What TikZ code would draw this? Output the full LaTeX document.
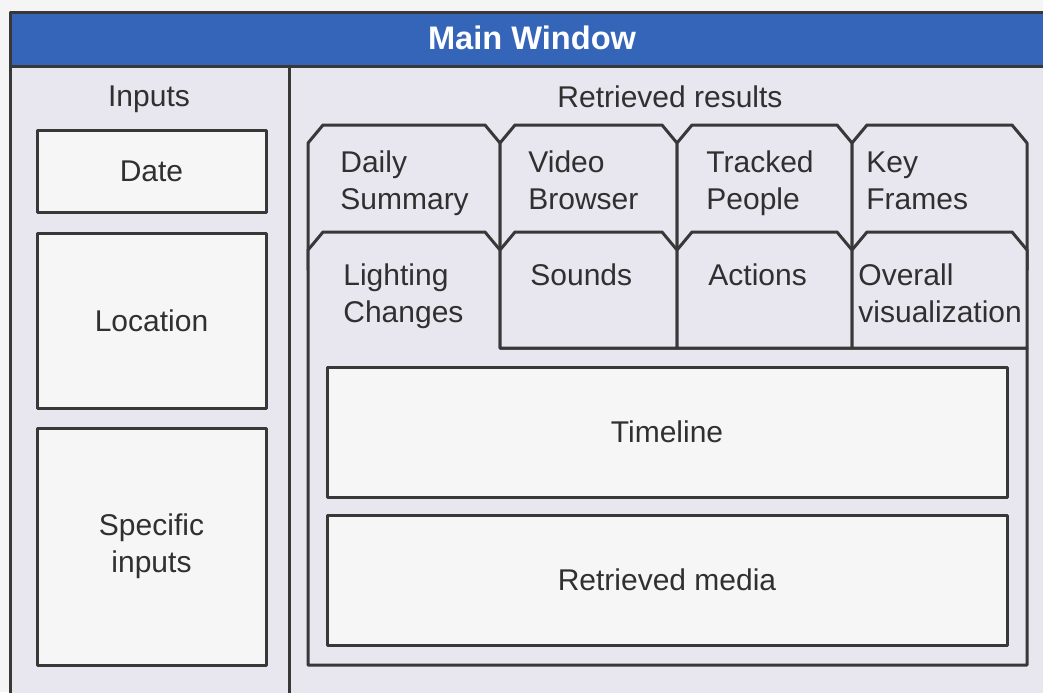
\documentclass[tikz,border=0pt]{standalone}
\usepackage{fontspec}
\setmainfont{Liberation Sans}
\usepackage{tikz}
\definecolor{titleblue}{HTML}{3465B8}
\definecolor{panelbg}{HTML}{E8E6EE}
\definecolor{boxbg}{HTML}{F6F6F7}
\definecolor{linegray}{HTML}{383838}
\definecolor{textgray}{HTML}{303030}
\tikzset{
  every picture/.style={line join=round, line cap=round},
  frameline/.style={draw=linegray, line width=1.5pt},
  inbox/.style={frameline, fill=boxbg, rectangle, inner sep=2pt, align=center,
    font=\fontsize{15}{18.5}\selectfont, text=textgray},
  tabbox/.style={frameline, fill=panelbg},
  tablabel/.style={anchor=north west, inner sep=0pt, align=left,
    font=\fontsize{15}{18.5}\selectfont, text=textgray},
  headlabel/.style={inner sep=0pt, font=\fontsize{15}{18.5}\selectfont, text=textgray},
}
% chamfered tab outline: left x, right x, top y, bottom y
\newcommand{\tabpath}[4]{(#1,#4) -- (#1,#3+18) -- (#1+15,#3) -- (#2-15,#3) -- (#2,#3+18) -- (#2,#4)}

\begin{document}
\begin{tikzpicture}[x=0.5pt,y=-0.5pt]
\useasboundingbox (0,0) rectangle (1043,692);
\fill[white!96!black] (0,0) rectangle (1043,692);
\clip (0,0) rectangle (1043,692);
% window
\draw[frameline, fill=panelbg] (10,12) rectangle (1080,720);
\draw[frameline, fill=titleblue] (10,12) rectangle (1080,66);
\node[inner sep=0pt, text=white, font=\fontsize{16.3}{19}\selectfont\bfseries] (title) at (532,38) {Main Window};
\draw[frameline] (289,66) -- (289,720);
% inputs column
\node[headlabel] (inputs) at (149,99) {Inputs};
\node[inbox, minimum width=114.5pt, minimum height=41pt] (date) at (151.5,171) {Date};
\node[inbox, minimum width=114.5pt, minimum height=87.5pt] (location) at (151.5,320.5) {Location};
\node[inbox, minimum width=114.5pt, minimum height=118.5pt] (specific) at (151.5,546.5) {Specific\\inputs};
% results column
\node[headlabel] (results) at (670,97) {Retrieved results};
% first row of tabs
\draw[tabbox] \tabpath{308}{500}{125}{270} -- cycle;
\draw[tabbox] \tabpath{500}{677}{125}{270} -- cycle;
\draw[tabbox] \tabpath{677}{852}{125}{270} -- cycle;
\draw[tabbox] \tabpath{852}{1027}{125}{270} -- cycle;
% second row, active tab joined to the content area
\draw[tabbox] (308,665) -- (308,250) -- (323,232) -- (485,232) -- (500,250) -- (500,348) -- (1027,348) -- (1027,665) -- cycle;
\draw[tabbox] \tabpath{500}{677}{232}{348} -- cycle;
\draw[tabbox] \tabpath{677}{852}{232}{348} -- cycle;
\draw[tabbox] \tabpath{852}{1027}{232}{348} -- cycle;
\node[tablabel] (daily) at (340,146) {\strut Daily\\\strut Summary};
\node[tablabel] (video) at (528,146) {\strut Video\\\strut Browser};
\node[tablabel] (tracked) at (706,146) {\strut Tracked\\\strut People};
\node[tablabel] (keyframes) at (866,146) {\strut Key\\\strut Frames};
\node[tablabel] (lighting) at (343,259) {\strut Lighting\\\strut Changes};
\node[tablabel] (sounds) at (530,259) {\strut Sounds};
\node[tablabel] (actions) at (708,259) {\strut Actions};
\node[tablabel] (overall) at (858,259) {\strut Overall\\\strut visualization};
\node[inbox, minimum width=340pt, minimum height=65pt] (timeline) at (667,432) {Timeline};
\node[inbox, minimum width=340pt, minimum height=65pt] (media) at (667,580) {Retrieved media};
\end{tikzpicture}
\end{document}
